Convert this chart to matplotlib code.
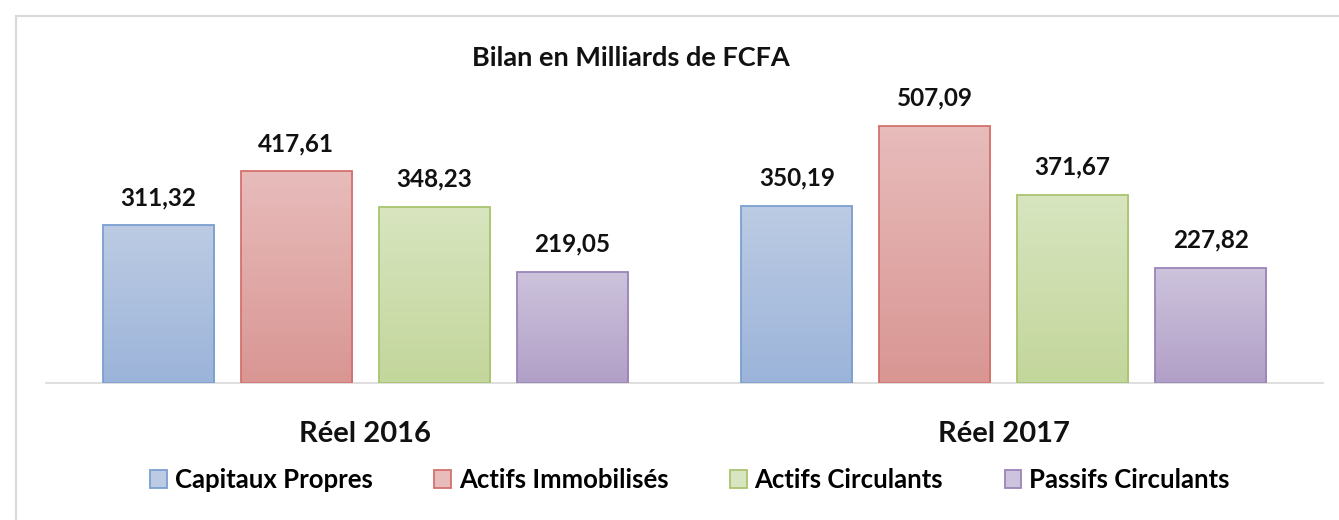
import numpy as np
import matplotlib.pyplot as plt
from matplotlib.patches import Rectangle, Patch
from matplotlib.colors import LinearSegmentedColormap

# ----------------------------------------------------------------------
# data
# ----------------------------------------------------------------------
categories = ['Réel 2016', 'Réel 2017']
series = ['Capitaux Propres', 'Actifs Immobilisés', 'Actifs Circulants', 'Passifs Circulants']
capitaux_propres = [311.32, 350.19]
actifs_immobilises = [417.61, 507.09]
actifs_circulants = [348.23, 371.67]
passifs_circulants = [219.05, 227.82]
values = [capitaux_propres, actifs_immobilises, actifs_circulants, passifs_circulants]

# (top colour, bottom colour, edge colour)
STYLES = [
    ('#bccbe3', '#9cb4da', '#7a9fd0'),
    ('#e7bcbb', '#d99693', '#d4716e'),
    ('#d8e5c0', '#c3d69b', '#a9c46e'),
    ('#cdc3dc', '#b1a0c7', '#9a85b8'),
]

plt.rcParams['font.family'] = ['Lato', 'DejaVu Sans']
TXT = '#111111'

fig = plt.figure(figsize=(13.39, 5.2), dpi=100)
W, H = 1339, 520

# light grey chart frame (runs off the right and bottom edges)
fig.patches.append(Rectangle((16 / W, -0.1), 1.2, 1 - 16 / H + 0.1,
                             transform=fig.transFigure, fill=False,
                             edgecolor='#d9d9d9', linewidth=1.6))

ax = fig.add_axes([46 / W, 1 - 383 / H, (1323 - 46) / W, (383 - 90) / H])
ymax = (383 - 90) / 0.5068

x = np.arange(len(categories))
step = 0.216
width = 0.174
offsets = (np.arange(len(series)) - 1.5) * step

handles = []
grad = np.linspace(0, 1, 256).reshape(-1, 1)
for i, (name, vals) in enumerate(zip(series, values)):
    top, bottom, edge = STYLES[i]
    cmap = LinearSegmentedColormap.from_list(f'g{i}', [bottom, top])
    bars = ax.bar(x + offsets[i], vals, width=width, color='none',
                  edgecolor=edge, linewidth=1.3, zorder=3)
    for b, v in zip(bars, vals):
        bx, bw = b.get_x(), b.get_width()
        im = ax.imshow(grad, cmap=cmap, origin='lower', aspect='auto',
                       extent=(bx, bx + bw, 0, v), zorder=2)
        im.set_clip_path(b)
        ax.text(bx + bw / 2, v + 0.055 * ymax, f'{v:.2f}'.replace('.', ','),
                ha='center', va='bottom', fontsize=17.5, fontweight='bold',
                color=TXT)
    handles.append(Patch(facecolor=top, edgecolor=edge, linewidth=1.3, label=name))

ax.set_xlim(-0.5, 1.5)
ax.set_ylim(0, ymax)
for s in ['top', 'right', 'left']:
    ax.spines[s].set_visible(False)
ax.spines['bottom'].set_color('#d9d9d9')
ax.spines['bottom'].set_linewidth(1.2)
ax.set_yticks([])
ax.set_xticks(x)
ax.set_xticklabels(categories, fontsize=21, fontweight='bold', color=TXT)
ax.tick_params(axis='x', length=0, pad=27)

fig.text(631 / W, 1 - 58 / H, 'Bilan en Milliards de FCFA', ha='center', va='center',
         fontsize=19.5, fontweight='bold', color=TXT)

fig.legend(handles=handles, loc='center', bbox_to_anchor=(690 / W, 1 - 480 / H),
           ncol=4, frameon=False, handlelength=0.65, handleheight=0.65,
           handletextpad=0.3, columnspacing=2.4,
           prop={'size': 18.5, 'weight': 'bold'})

fig.savefig('out.png', dpi=100)
